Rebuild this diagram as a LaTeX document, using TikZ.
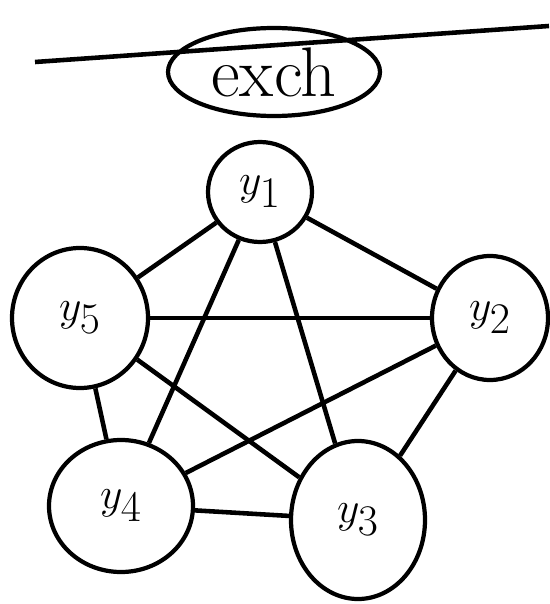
\documentclass[tikz,border=0pt]{standalone}
\usepackage{amsmath, amssymb}
\usepackage{tikz}
\usetikzlibrary{shapes.geometric}

\begin{document}
\begin{tikzpicture}[x=0.02cm,y=-0.02cm,
    sommet/.style={draw,ellipse,line width=2.4pt,inner sep=0pt,
      font=\fontsize{44}{48}\selectfont},
    arete/.style={line width=2.6pt}]
  % Cadre de l'image
  \useasboundingbox (0,0) rectangle (549,604);

  % Titre barre
  \node[sommet,minimum width=212*0.02cm,minimum height=88*0.02cm,
    font=\fontsize{40}{44}\selectfont] (titre) at (274,72) {exch};
  \coordinate (barreG) at (35,62);
  \coordinate (barreD) at (549,26);
  \draw[arete] (barreG) -- (barreD);

  % Sommets du graphe
  \node[sommet,minimum width=104*0.02cm,minimum height=100*0.02cm] (y1) at (260,192) {$y_1$};
  \node[sommet,minimum width=116*0.02cm,minimum height=124*0.02cm] (y2) at (490,318) {$y_2$};
  \node[sommet,minimum width=134*0.02cm,minimum height=158*0.02cm] (y3) at (358,520) {$y_3$};
  \node[sommet,minimum width=144*0.02cm,minimum height=132*0.02cm] (y4) at (121,506) {$y_4$};
  \node[sommet,minimum width=136*0.02cm,minimum height=140*0.02cm] (y5) at (80,318) {$y_5$};

  % Aretes (graphe complet)
  \foreach \a/\b in {y1/y2, y1/y3, y1/y4, y1/y5, y2/y3, y2/y4, y2/y5, y3/y4, y3/y5, y4/y5}
    \draw[arete] (\a) -- (\b);
\end{tikzpicture}
\end{document}
